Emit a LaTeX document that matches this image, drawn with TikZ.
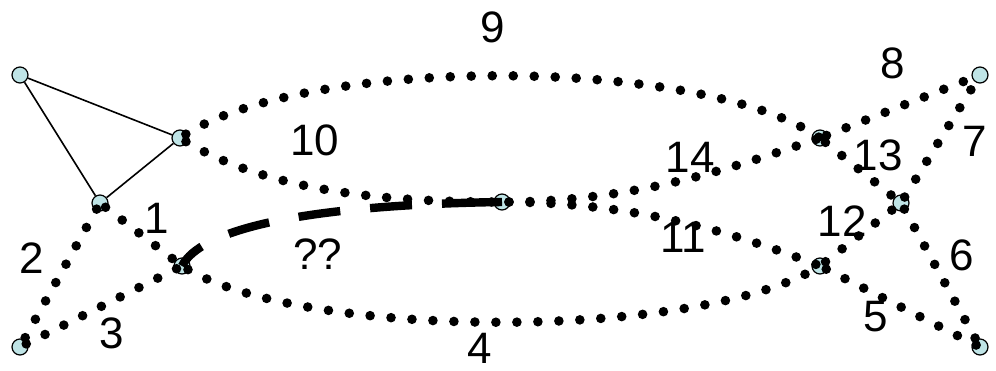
\documentclass[tikz,border=0pt]{standalone}
\usepackage{fontspec}
\setmainfont{Liberation Sans}
\usetikzlibrary{positioning}
\definecolor{celeste}{HTML}{BFE4E6}

\begin{document}
\begin{tikzpicture}[x=0.5pt,y=-0.5pt,
      vert/.style={circle,draw=black,line width=0.6pt,fill=celeste,minimum size=8pt,inner sep=0pt},
      punteado/.style={line width=4.8pt,dash pattern=on 0pt off 10.5pt,dash phase=7pt,line cap=round},
      discont/.style={line width=4.2pt,dash pattern=on 14pt off 15pt on 21pt off 15pt on 21pt off 15pt on 21pt off 15pt on 60pt off 15pt},
      etiq/.style={font=\fontsize{22}{26}\selectfont,inner sep=0pt}]
    \useasboundingbox (0,0) rectangle (996,370);
    % vertices
    \node[vert] (A) at (20,75) {};
    \node[vert] (B) at (180,138) {};
    \node[vert] (C) at (100,203) {};
    \node[vert] (D) at (20,347) {};
    \node[vert] (E) at (182,266) {};
    \node[vert] (F) at (502,202) {};
    \node[vert] (G) at (820,138) {};
    \node[vert] (H) at (820,266) {};
    \node[vert] (I) at (901,203) {};
    \node[vert] (J) at (980,75) {};
    \node[vert] (K) at (980,347) {};
    % triangle
    \draw[line width=0.8pt] (A) -- (B);
    \draw[line width=0.8pt] (A) -- (C);
    \draw[line width=0.8pt] (C) -- (B);
    % dotted edges
    \draw[punteado] (C.center) -- (E.center);
    \draw[punteado] (C.center) -- (D.center);
    \draw[punteado] (D.center) -- (E.center);
    \draw[punteado] (E.center) .. controls (300,341) and (700,341) .. (H.center);
    \draw[punteado] (H.center) -- (K.center);
    \draw[punteado] (I.center) -- (K.center);
    \draw[punteado] (I.center) -- (J.center);
    \draw[punteado] (G.center) -- (J.center);
    \draw[punteado] (B.center) .. controls (300,55) and (700,55) .. (G.center);
    \draw[punteado] (B.center) .. controls (270,195) and (400,202) .. (F.center);
    \draw[punteado] (F.center) .. controls (640,202) and (740,165) .. (G.center);
    \draw[punteado] (F.center) .. controls (640,202) and (740,235) .. (H.center);
    \draw[punteado] (H.center) -- (I.center);
    \draw[punteado] (G.center) -- (I.center);
    % dashed path
    \draw[discont] (E.center) .. controls (200,230) and (300,205) .. (F.center);
    % labels
    \node[etiq] (l1) at (157,218) {1};
    \node[etiq] (l2) at (32,258) {2};
    \node[etiq] (l3) at (112,333) {3};
    \node[etiq] (l4) at (480,348) {4};
    \node[etiq] (l5) at (876,317) {5};
    \node[etiq] (l6) at (962,255) {6};
    \node[etiq] (l7) at (975,141) {7};
    \node[etiq] (l8) at (893,63) {8};
    \node[etiq] (l9) at (493,27) {9};
    \node[etiq] (l10) at (315,140) {10};
    \node[etiq] (l11) at (683,237) {11};
    \node[etiq] (l12) at (842,221) {12};
    \node[etiq] (l13) at (878,155) {13};
    \node[etiq] (l14) at (690,157) {14};
    \node[etiq] (lq) at (318,254) {??};
  \end{tikzpicture}
\end{document}
